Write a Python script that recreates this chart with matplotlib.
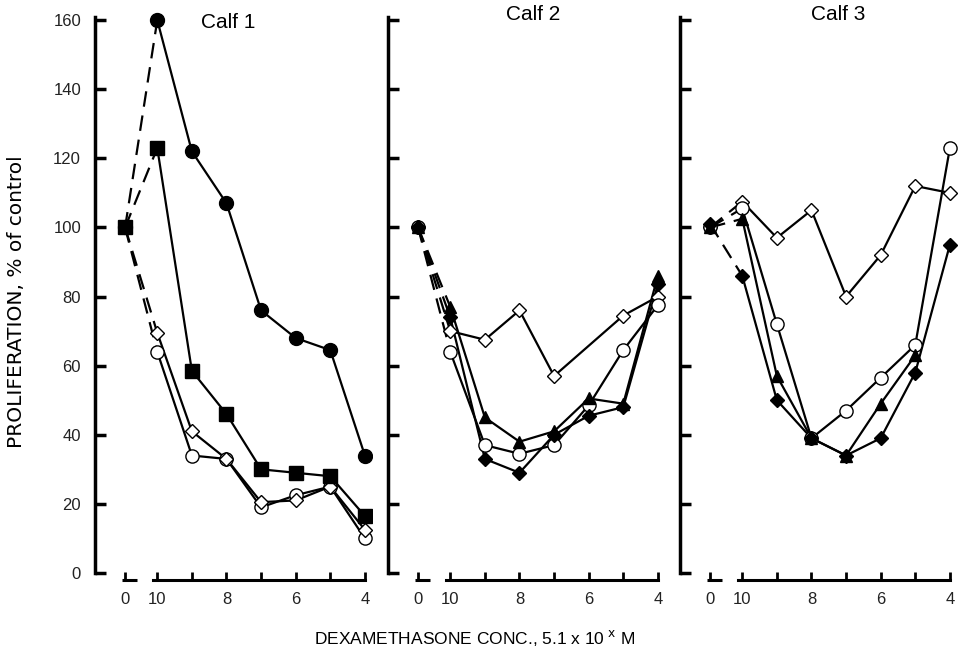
import numpy as np
import matplotlib.pyplot as plt

plt.rcParams['font.family'] = ['Liberation Sans', 'DejaVu Sans']

# exponents of the dexamethasone concentration (0 = control), plotted left to right
conc = [0, 10, 9, 8, 7, 6, 5, 4]
pos = np.array([0.07, 1, 2, 3, 4, 5, 6, 7])
tick_labels = ['0', '10', '', '8', '', '6', '', '4']

calves = ['Calf 1', 'Calf 2', 'Calf 3']

# Calf 1
c1_circle_f = [100, 160, 122, 107, 76, 68, 64.5, 34]
c1_square_f = [100, 123, 58.5, 46, 30, 29, 28, 16.5]
c1_diam_o = [100, 69.5, 41, 33, 20.5, 21, 25, 12.5]
c1_circle_o = [100, 64, 34, 33, 19, 22.5, 25, 10]

# Calf 2
c2_diam_o = [100, 70, 67.5, 76, 57, np.nan, 74.5, 80]
c2_tri_f = [100, 77, 45, 38, 41, 50.5, 49, 86]
c2_diam_f = [100, 74, 33, 29, 40, 45.5, 48, 83.5]
c2_circle_o = [100, 64, 37, 34.5, 37, 48.5, 64.5, 77.5]

# Calf 3
c3_diam_o = [100, 107.5, 97, 105, 80, 92, 112, 110]
c3_circle_o = [100, 105.5, 72, 39, 47, 56.5, 66, 123]
c3_tri_f = [100, 102.5, 57, 39, 34, 49, 63, np.nan]
c3_diam_f = [101, 86, 50, 39, 34, 39, 58, 95]

styles = {
    'circle_f': dict(marker='o', mfc='black', ms=10),
    'square_f': dict(marker='s', mfc='black', ms=9.5),
    'diam_o': dict(marker='D', mfc='white', ms=7.5),
    'circle_o': dict(marker='o', mfc='white', ms=9.5),
    'tri_f': dict(marker='^', mfc='black', ms=9),
    'diam_f': dict(marker='D', mfc='black', ms=7.5),
}

panels = [
    [('circle_o', c1_circle_o), ('diam_o', c1_diam_o), ('circle_f', c1_circle_f), ('square_f', c1_square_f)],
    [('diam_o', c2_diam_o), ('circle_o', c2_circle_o), ('diam_f', c2_diam_f), ('tri_f', c2_tri_f)],
    [('diam_o', c3_diam_o), ('circle_o', c3_circle_o), ('tri_f', c3_tri_f), ('diam_f', c3_diam_f)],
]

fig = plt.figure(figsize=(9.6, 6.52), dpi=100)
W, H = 960, 652
lefts = [95, 388, 680]
unit = 34.6
xlim = (-0.8, 7.2)
ylim = (-4, 163)
title_xy = [(228, 22), (533, 15), (838, 15)]

for i, (left, series) in enumerate(zip(lefts, panels)):
    ax = fig.add_axes([left / W, 0.1, (xlim[1] - xlim[0]) * unit / W, 0.885])
    ax.set_xlim(*xlim)
    ax.set_ylim(*ylim)
    for key, vals in series:
        st = styles[key]
        y = np.array(vals, dtype=float)
        # broken segment between control and first concentration
        ax.plot(pos[:2], y[:2], color='black', lw=1.6, ls=(0, (7, 4)), zorder=2)
        m = ~np.isnan(y[1:])
        ax.plot(pos[1:][m], y[1:][m], color='black', lw=1.6, zorder=2)
        ax.plot(pos[m.nonzero()[0] + 1], y[1:][m], ls='none', marker=st['marker'],
                mfc=st['mfc'], mec='black', mew=1.0, ms=st['ms'], zorder=3)
        ax.plot(pos[:1], y[:1], ls='none', marker=st['marker'], mfc=st['mfc'],
                mec='black', mew=1.0, ms=st['ms'], zorder=3)

    for s in ['top', 'right']:
        ax.spines[s].set_visible(False)
    ax.spines['left'].set_linewidth(2.5)
    ax.spines['left'].set_bounds(0, 161)
    ax.spines['bottom'].set_linewidth(2.2)
    ax.spines['bottom'].set_position(('data', -2))
    ax.spines['bottom'].set_bounds(pos[1] - 0.12, pos[-1])
    # short piece of the axis under the control point
    ax.plot([pos[0] - 0.1, pos[0] + 0.35], [-2, -2], color='black', lw=2.2,
            solid_capstyle='butt', clip_on=False)

    ax.set_yticks(np.arange(0, 161, 20))
    ax.tick_params(axis='y', direction='in', length=8, width=2.5, labelsize=12,
                   labelcolor='#222222', pad=10)
    if i > 0:
        ax.set_yticklabels([])
    ax.set_xticks(pos)
    ax.set_xticklabels(tick_labels)
    ax.tick_params(axis='x', direction='in', length=6, width=2, labelsize=12,
                   labelcolor='#222222', pad=9)
    ax.patch.set_visible(False)

    tx, ty = title_xy[i]
    fig.text(tx / W, 1 - ty / H, calves[i], ha='center', va='center', fontsize=15)

fig.text(475 / W, 1 - 638 / H, 'DEXAMETHASONE CONC., 5.1 x 10$^{\\ \\mathrm{x}}$ M',
         ha='center', va='center', fontsize=12.5)
fig.text(17 / W, 1 - 302 / H, 'PROLIFERATION, % of control', rotation=90,
         ha='center', va='center', fontsize=14.5, family=['DejaVu Sans'])

fig.savefig('out.png', dpi=100)
